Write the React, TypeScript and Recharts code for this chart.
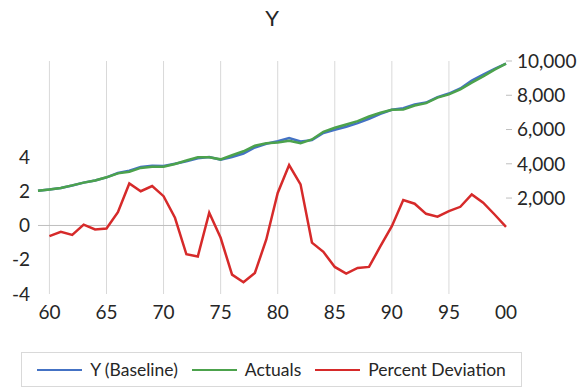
import { LineChart, Line, XAxis, YAxis, ReferenceLine, Legend } from "recharts";

const years = [
  1959, 1960, 1961, 1962, 1963, 1964, 1965, 1966, 1967, 1968, 1969, 1970, 1971, 1972,
  1973, 1974, 1975, 1976, 1977, 1978, 1979, 1980, 1981, 1982, 1983, 1984, 1985, 1986,
  1987, 1988, 1989, 1990, 1991, 1992, 1993, 1994, 1995, 1996, 1997, 1998, 1999, 2000,
];

// Y (Baseline), right axis
const baseline = [
  2430, 2495, 2585, 2730, 2900, 3027, 3207, 3460, 3600, 3810, 3890, 3875, 4000, 4140,
  4320, 4400, 4240, 4400, 4600, 4950, 5170, 5320, 5500, 5300, 5380, 5800, 5990, 6160,
  6370, 6630, 6920, 7150, 7250, 7470, 7575, 7890, 8100, 8400, 8860, 9200, 9545, 9845,
];

// Actuals, right axis
const actuals = [
  2430, 2505, 2590, 2740, 2900, 3030, 3210, 3440, 3540, 3760, 3830, 3830, 3990, 4190,
  4380, 4380, 4260, 4500, 4730, 5050, 5200, 5240, 5340, 5200, 5420, 5870, 6100, 6290,
  6490, 6760, 6980, 7150, 7170, 7400, 7540, 7860, 8050, 8340, 8740, 9100, 9500, 9850,
];

// Percent Deviation, left axis (no value for 1959)
const pctDeviation = [
  null, -0.62, -0.37, -0.55, 0.05, -0.23, -0.18, 0.78, 2.45, 2.0, 2.3, 1.71, 0.45, -1.68,
  -1.81, 0.74, -0.72, -2.87, -3.31, -2.77, -0.82, 1.9, 3.53, 2.4, -1.0, -1.54, -2.42, -2.81,
  -2.48, -2.42, -1.21, -0.04, 1.48, 1.27, 0.68, 0.51, 0.84, 1.09, 1.81, 1.33, 0.64, -0.08,
];

const seriesNames = ["Y (Baseline)", "Actuals", "Percent Deviation"];
const xTicks = [1960, 1965, 1970, 1975, 1980, 1985, 1990, 1995, 2000];
const pctTicks = [-4, -2, 0, 2, 4];
const levelTicks = [2000, 4000, 6000, 8000, 10000];

const data = years.map((year, i) => ({
  year,
  baseline: baseline[i],
  actuals: actuals[i],
  pct: pctDeviation[i],
}));

const textColor = "#262626";
const tickStyle = { fill: textColor, fontSize: 19 };

function LegendBox({ payload }: any) {
  const items = [...(payload ?? [])].sort(
    (a: any, b: any) => seriesNames.indexOf(a.value) - seriesNames.indexOf(b.value)
  );
  return (
    <div
      style={{
        boxSizing: "border-box",
        width: "100%",
        height: "100%",
        border: "1px solid #d9d9d9",
        display: "flex",
        alignItems: "center",
        justifyContent: "center",
        gap: 14,
      }}
    >
      {items.map((entry: any) => (
        <div key={entry.value} style={{ display: "flex", alignItems: "center", gap: 8 }}>
          <span style={{ display: "block", width: 45, borderTop: `2.5px solid ${entry.color}` }} />
          <span style={{ fontSize: 17.5, color: textColor, lineHeight: 1 }}>{entry.value}</span>
        </div>
      ))}
    </div>
  );
}

export default function App() {
  return (
    <div style={{ position: "relative", width: 586, height: 388, fontFamily: "Lato, sans-serif", background: "#fff" }}>
      <style>{`body { margin: 0; }`}</style>
      <div
        style={{
          position: "absolute",
          top: 4,
          left: 38,
          width: 468,
          textAlign: "center",
          fontSize: 22,
          color: textColor,
          zIndex: 1,
        }}
      >
        Y
      </div>
      <LineChart width={586} height={388} data={data} margin={{ top: 61, right: 0, bottom: 64, left: 0 }}>
        <XAxis
          dataKey="year"
          type="number"
          domain={[1959, 2000]}
          ticks={xTicks}
          interval={0}
          axisLine={false}
          tickLine={false}
          tickMargin={6}
          height={30}
          tick={tickStyle}
          tickFormatter={(v: number) => String(v % 100).padStart(2, "0")}
        />
        <YAxis
          yAxisId="pct"
          orientation="left"
          width={38}
          domain={[-4, 9.6]}
          ticks={pctTicks}
          axisLine={false}
          tickLine={false}
          tick={tickStyle}
        />
        <YAxis
          yAxisId="level"
          orientation="right"
          width={80}
          domain={[-3600, 10000]}
          ticks={levelTicks}
          axisLine={false}
          tickLine={{ stroke: "#bfbfbf" }}
          tickSize={6}
          tickMargin={5}
          tick={tickStyle}
          tickFormatter={(v: number) => v.toLocaleString("en-US")}
        />
        {xTicks
          .filter((t) => t < 2000)
          .map((t) => (
            <ReferenceLine key={t} yAxisId="pct" x={t} stroke="#d9d9d9" strokeWidth={1} />
          ))}
        <ReferenceLine yAxisId="pct" y={0} stroke="#bfbfbf" strokeWidth={1} />
        <Legend
          layout="vertical"
          align="center"
          verticalAlign="middle"
          wrapperStyle={{ left: 21, top: 352, width: 501, height: 35 }}
          content={<LegendBox />}
        />
        <Line
          yAxisId="level"
          dataKey="baseline"
          name="Y (Baseline)"
          stroke="#4472c4"
          strokeWidth={2.5}
          dot={false}
          isAnimationActive={false}
        />
        <Line
          yAxisId="level"
          dataKey="actuals"
          name="Actuals"
          stroke="#4ca24c"
          strokeWidth={2.5}
          dot={false}
          isAnimationActive={false}
        />
        <Line
          yAxisId="pct"
          dataKey="pct"
          name="Percent Deviation"
          stroke="#d62a2a"
          strokeWidth={2.5}
          dot={false}
          isAnimationActive={false}
        />
      </LineChart>
    </div>
  );
}
